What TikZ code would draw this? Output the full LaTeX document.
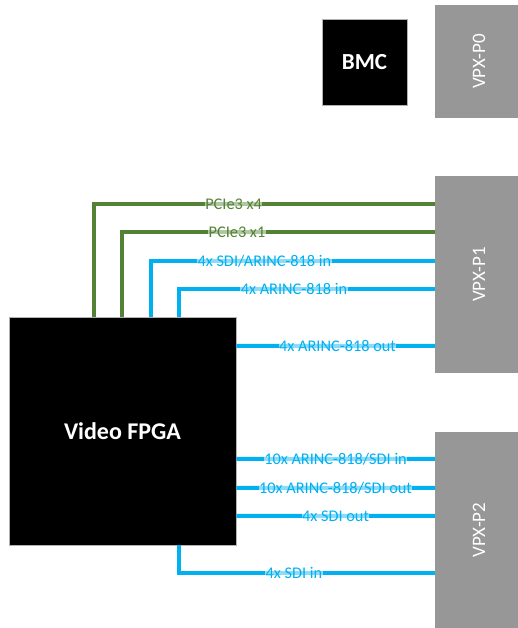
\documentclass[tikz,border=0pt]{standalone}
\usepackage{fontspec}
\setmainfont{Carlito}
\usetikzlibrary{positioning}

\definecolor{pciegreen}{HTML}{548235}
\definecolor{linkblue}{HTML}{00B0F0}
\definecolor{vpxgray}{HTML}{979797}

\tikzset{
  chip/.style={fill=black, draw=gray!60, line width=0.5pt, text=white, font=\bfseries, inner sep=0pt},
  connector/.style={fill=vpxgray, text=white, inner sep=0pt, font=\fontsize{19}{19}\selectfont},
  pcie/.style={draw=pciegreen, line width=3.6pt},
  video/.style={draw=linkblue, line width=4pt},
  lbl/.style={fill=white, fill opacity=0.55, text opacity=1, inner sep=0.5pt, font=\fontsize{16.3}{16}\selectfont},
}

\begin{document}
\begin{tikzpicture}[x=1pt, y=-1pt]
\useasboundingbox (0,0) rectangle (517,628);

% chips
\node[chip, minimum width=227pt, minimum height=228pt, font=\bfseries\fontsize{24}{24}\selectfont] (fpga) at (122.5,431) {Video FPGA};
\node[chip, minimum width=85pt, minimum height=86pt, font=\bfseries\fontsize{23}{23}\selectfont] (bmc) at (364.5,62) {BMC};

% VPX connectors (rotated, so north east is the top left corner)
\node[connector, minimum width=113pt, minimum height=88pt, rotate=90] (p0) at (479,61.5) {VPX-P0};
\node[connector, minimum width=197pt, minimum height=88pt, rotate=90] (p1) at (479,274.5) {VPX-P1};
\node[connector, minimum width=196pt, minimum height=88pt, rotate=90] (p2) at (479,530) {VPX-P2};

% PCIe links
\draw[pcie] ([xshift=85pt]fpga.north west) |- node[lbl, pos=0.705, text=pciegreen] {PCIe3 x4} ([yshift=-28pt]p1.north east);
\draw[pcie] ([xshift=113pt]fpga.north west) |- node[lbl, pos=0.684, text=pciegreen] {PCIe3 x1} ([yshift=-56pt]p1.north east);

% video links to P1
\draw[video] ([xshift=142pt]fpga.north west) |- node[lbl, pos=0.70, text=linkblue] {4x SDI/ARINC-818 in} ([yshift=-85pt]p1.north east);
\draw[video] ([xshift=170pt]fpga.north west) |- node[lbl, pos=0.725, text=linkblue] {4x ARINC-818 in} ([yshift=-113pt]p1.north east);
\draw[video] ([yshift=-29pt]fpga.north east) -- node[lbl, pos=0.51, text=linkblue] {4x ARINC-818 out} ([yshift=-170pt]p1.north east);

% video links to P2
\draw[video] ([yshift=-142pt]fpga.north east) -- node[lbl, text=linkblue] {10x ARINC-818/SDI in} ([yshift=-27pt]p2.north east);
\draw[video] ([yshift=-171pt]fpga.north east) -- node[lbl, text=linkblue] {10x ARINC-818/SDI out} ([yshift=-56pt]p2.north east);
\draw[video] ([yshift=-199pt]fpga.north east) -- node[lbl, text=linkblue] {4x SDI out} ([yshift=-84pt]p2.north east);
\draw[video] ([xshift=170pt]fpga.south west) |- node[lbl, pos=0.725, text=linkblue] {4x SDI in} ([yshift=-141pt]p2.north east);

\end{tikzpicture}
\end{document}
